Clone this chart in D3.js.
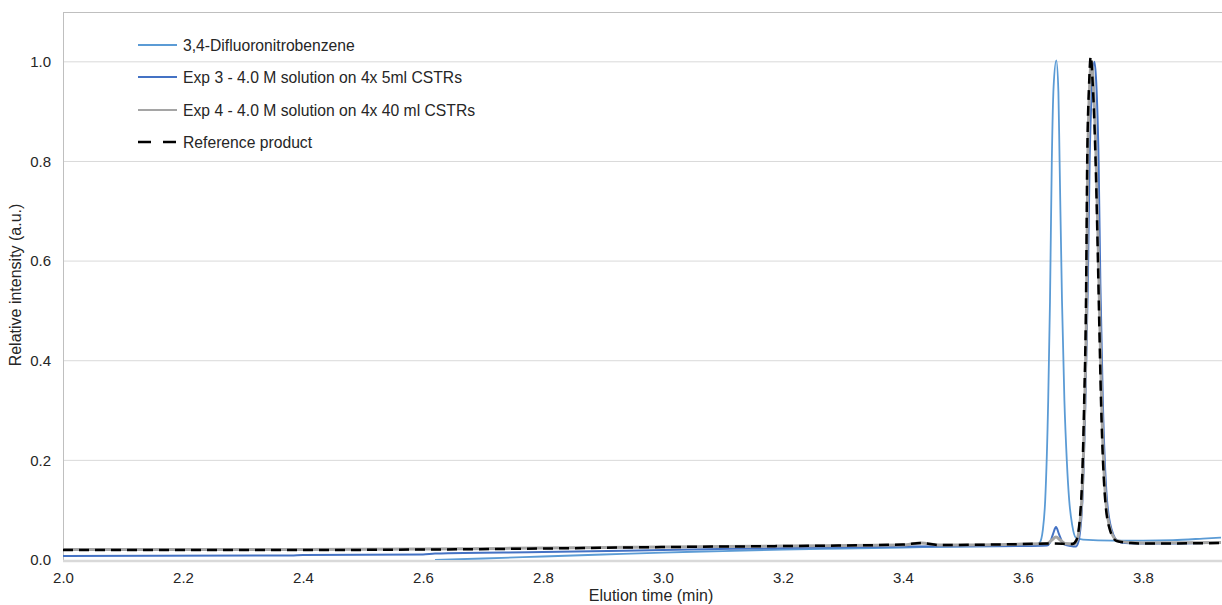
<!DOCTYPE html>
<html><head><meta charset="utf-8">
<script src="https://cdn.jsdelivr.net/npm/d3@7"></script>
<style>
body{margin:0;background:#fff;}
text{font-family:"Liberation Sans",Arial,sans-serif;fill:#262626;}
</style></head>
<body><svg id="c" width="1222" height="605"></svg>
<script>
const seriesNames = ["3,4-Difluoronitrobenzene","Exp 3 - 4.0 M solution on 4x 5ml CSTRs","Exp 4 - 4.0 M solution on 4x 40 ml CSTRs","Reference product"];
const xTicks = [2.0,2.2,2.4,2.6,2.8,3.0,3.2,3.4,3.6,3.8];
const yTicks = [0.0,0.2,0.4,0.6,0.8,1.0];

const dfnb = [[2.62,0.000],[2.70,0.003],[2.80,0.007],[2.90,0.011],[3.00,0.015],[3.10,0.018],[3.20,0.021],[3.30,0.023],[3.40,0.025],[3.50,0.027],[3.60,0.028],[3.620,0.029],[3.628,0.035],[3.633,0.06],[3.637,0.12],[3.642,0.32],[3.645,0.52],[3.648,0.80],[3.651,0.95],[3.6555,1.003],[3.659,0.94],[3.661,0.80],[3.665,0.52],[3.669,0.32],[3.673,0.20],[3.677,0.12],[3.682,0.07],[3.688,0.045],[3.700,0.041],[3.750,0.039],[3.800,0.039],[3.850,0.040],[3.900,0.043],[3.930,0.045]];

const exp3 = [[2.00,0.008],[2.38,0.009],[2.40,0.010],[2.60,0.011],[2.62,0.013],[2.80,0.016],[3.00,0.020],[3.20,0.024],[3.40,0.027],[3.60,0.028],[3.640,0.029],[3.645,0.035],[3.650,0.052],[3.655,0.066],[3.660,0.052],[3.667,0.033],[3.680,0.028],[3.688,0.027],[3.692,0.035],[3.699,0.12],[3.704,0.32],[3.708,0.55],[3.711,0.80],[3.715,0.95],[3.719,1.0],[3.722,0.96],[3.726,0.80],[3.729,0.55],[3.733,0.32],[3.740,0.12],[3.748,0.06],[3.758,0.038],[3.770,0.034],[3.800,0.033],[3.850,0.033],[3.930,0.035]];

const exp4 = [[2.00,0.021],[2.20,0.021],[2.40,0.021],[2.60,0.022],[2.80,0.024],[3.00,0.026],[3.20,0.028],[3.40,0.030],[3.43,0.034],[3.46,0.030],[3.60,0.032],[3.640,0.033],[3.648,0.040],[3.655,0.046],[3.662,0.040],[3.670,0.033],[3.685,0.032],[3.690,0.040],[3.698,0.12],[3.703,0.32],[3.706,0.52],[3.708,0.80],[3.711,0.95],[3.714,1.0],[3.717,0.96],[3.722,0.80],[3.725,0.65],[3.728,0.48],[3.731,0.32],[3.738,0.12],[3.746,0.06],[3.757,0.039],[3.780,0.035],[3.800,0.034],[3.930,0.035]];

const refProd = [[2.00,0.020],[2.20,0.020],[2.40,0.020],[2.60,0.021],[2.80,0.023],[3.00,0.026],[3.20,0.028],[3.40,0.031],[3.43,0.034],[3.46,0.030],[3.60,0.032],[3.65,0.033],[3.682,0.032],[3.689,0.040],[3.697,0.12],[3.702,0.32],[3.705,0.52],[3.707,0.80],[3.710,0.95],[3.713,1.011],[3.716,0.96],[3.721,0.80],[3.724,0.65],[3.727,0.48],[3.730,0.32],[3.737,0.12],[3.745,0.06],[3.756,0.038],[3.780,0.034],[3.800,0.033],[3.930,0.034]];

const colors = ["#5b9bd5","#4472c4","#a5a5a5","#000000"];
const widths = [1.8,2,3,2.5];
const dashes = [null,null,null,"10,6"];
const data = [dfnb,exp3,exp4,refProd];

const svg = d3.select("#c");
const L=63, T=12, R=1222, B=560;
const x = d3.scaleLinear().domain([2.0,4.0]).range([L,L+1200]);
const y = d3.scaleLinear().domain([0,1.1]).range([B,T]);
const FONT = "Liberation Sans, Arial, sans-serif";

// gridlines
svg.append("g").selectAll("line").data(yTicks.filter(d=>d>0)).join("line")
  .attr("x1",L).attr("x2",R).attr("y1",d=>y(d)).attr("y2",d=>y(d))
  .attr("stroke","#d9d9d9").attr("stroke-width",1);
// frame
svg.append("line").attr("x1",L).attr("x2",R).attr("y1",T+0.5).attr("y2",T+0.5).attr("stroke","#bfbfbf");
svg.append("line").attr("x1",L+0.5).attr("x2",L+0.5).attr("y1",T).attr("y2",B).attr("stroke","#bfbfbf");

// axes
const xAxis = svg.append("g").attr("transform",`translate(0,${B})`)
  .call(d3.axisBottom(x).tickValues(xTicks).tickFormat(d3.format(".1f")).tickSize(0).tickPadding(12));
xAxis.select(".domain").remove();
xAxis.selectAll("text").attr("font-size",15).attr("fill","#262626").attr("font-family",FONT);
svg.append("line").attr("x1",L).attr("x2",R).attr("y1",B+1).attr("y2",B+1).attr("stroke","#d9d9d9").attr("stroke-width",2.5);

const yAxis = svg.append("g").attr("transform",`translate(${L},0)`)
  .call(d3.axisLeft(y).tickValues(yTicks).tickFormat(d3.format(".1f")).tickSize(0).tickPadding(12));
yAxis.select(".domain").remove();
yAxis.selectAll("text").attr("font-size",15).attr("fill","#262626").attr("font-family",FONT);

svg.append("text").attr("x",651).attr("y",601).attr("text-anchor","middle").attr("font-size",16).text("Elution time (min)");
svg.append("text").attr("transform","translate(21,285) rotate(-90)").attr("text-anchor","middle").attr("font-size",16).text("Relative intensity (a.u.)");

// clip
svg.append("clipPath").attr("id","clip").append("rect").attr("x",L).attr("y",T).attr("width",R-L).attr("height",B-T);
const line = d3.line().x(d=>x(d[0])).y(d=>y(d[1])).curve(d3.curveMonotoneX);
const gl = svg.append("g").attr("clip-path","url(#clip)");
data.forEach((s,i)=>{
  gl.append("path").datum(s).attr("d",line).attr("fill","none")
    .attr("stroke",colors[i]).attr("stroke-width",widths[i])
    .attr("stroke-dasharray",dashes[i]).attr("stroke-linejoin","round");
});

// legend
const lg = svg.append("g");
const rowsY = [45,77,110,142];
seriesNames.forEach((n,i)=>{
  lg.append("line").attr("x1",138).attr("x2",177).attr("y1",rowsY[i]).attr("y2",rowsY[i])
    .attr("stroke",colors[i]).attr("stroke-width",i==3?2.5:2).attr("stroke-dasharray",i==3?"13,12":null);
  lg.append("text").attr("x",183).attr("y",rowsY[i]+6).attr("font-size",15.7).text(n);
});
</script></body></html>
